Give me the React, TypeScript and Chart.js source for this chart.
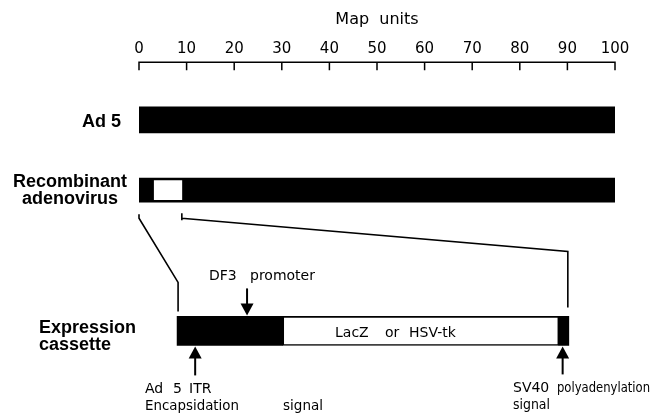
import { useEffect, useRef } from "react";
import { Chart, registerables } from "chart.js";

Chart.register(...registerables);

// ---- data (map units, 0-100) ----
const mapMin = 0;
const mapMax = 100;
const mapStep = 10;
const trackLabels = [
  "", "", "Ad 5", "", "", "Recombinant adenovirus", "", "", "", "", "",
  "Expression cassette", "", "", "",
];
const ad5Genome = [0, 100];
const recombinantGenome = [0, 100];
const recombinantDeletion = [3.2, 9.0];
const cassettePromoterRegion = [8.0, 30.2];
const cassetteTransgene = [30.2, 88.2];
const cassettePolyA = [88.2, 90.3];
const promoterArrowAt = 22.7;
const itrArrowAt = 11.8;
const polyAArrowAt = 89.0;

const rowData = (row: string, seg: number[]) =>
  trackLabels.map((l) => (l === row ? seg : null));

const REG = '"DejaVu Sans", "Open Sans", sans-serif';
const BOLD = 'bold 18px "Liberation Sans", Arial, sans-serif';

const diagramPlugin = {
  id: "diagram",
  afterDraw(chart: any) {
    const ctx = chart.ctx as CanvasRenderingContext2D;
    const xs = chart.scales.x;
    const px = (v: number) => xs.getPixelForValue(v);
    const elAt = (ds: number, label: string) =>
      chart.getDatasetMeta(ds).data[trackLabels.indexOf(label)];

    ctx.save();
    ctx.strokeStyle = "#000";
    ctx.fillStyle = "#000";

    // axis line + downward ticks
    const axisY = chart.chartArea.top + 1;
    ctx.lineWidth = 1.5;
    ctx.beginPath();
    ctx.moveTo(px(mapMin) - 0.75, axisY);
    ctx.lineTo(px(mapMax) + 0.75, axisY);
    xs.ticks.forEach((t: any) => {
      const x = px(t.value);
      ctx.moveTo(x, axisY);
      ctx.lineTo(x, axisY + 8);
    });
    ctx.stroke();

    const rec = elAt(2, "Recombinant adenovirus");
    const cas = elAt(3, "Expression cassette");
    const recBottom = rec.y + rec.height / 2;
    const casTop = cas.y - cas.height / 2;
    const casBottom = cas.y + cas.height / 2;

    // connecting lines
    ctx.lineWidth = 1.6;
    ctx.beginPath();
    const lx0 = px(recombinantGenome[0]);
    const lx1 = px(cassettePromoterRegion[0]) + 1;
    ctx.moveTo(lx0, recBottom + 12);
    ctx.lineTo(lx0, recBottom + 16);
    ctx.lineTo(lx1, casTop - 34);
    ctx.lineTo(lx1, casTop - 5);
    ctx.stroke();

    ctx.beginPath();
    const rx0 = px(recombinantDeletion[1]);
    const rx1 = px(cassettePolyA[1]) - 1;
    ctx.moveTo(rx0, recBottom + 11);
    ctx.lineTo(rx0, recBottom + 18);
    ctx.moveTo(rx0, recBottom + 16);
    ctx.lineTo(rx1, casTop - 65);
    ctx.lineTo(rx1, casTop - 9);
    ctx.stroke();

    // arrows
    const arrow = (x: number, tipY: number, dir: number, len: number) => {
      const headL = 12;
      const headW = 6.5;
      ctx.lineWidth = 2;
      ctx.beginPath();
      ctx.moveTo(x, tipY - dir * len);
      ctx.lineTo(x, tipY - dir * (headL - 1));
      ctx.stroke();
      ctx.beginPath();
      ctx.moveTo(x, tipY);
      ctx.lineTo(x - headW, tipY - dir * headL);
      ctx.lineTo(x + headW, tipY - dir * headL);
      ctx.closePath();
      ctx.fill();
    };
    arrow(px(promoterArrowAt), casTop - 1, 1, 27);
    arrow(px(itrArrowAt), casBottom + 1, -1, 29);
    arrow(px(polyAArrowAt), casBottom + 1, -1, 28);

    // text
    const text = (
      s: string,
      x: number,
      y: number,
      font: string,
      align: CanvasTextAlign = "left",
      maxW?: number
    ) => {
      ctx.font = font;
      ctx.textAlign = align;
      ctx.textBaseline = "alphabetic";
      if (maxW) ctx.fillText(s, x, y, maxW);
      else ctx.fillText(s, x, y);
    };
    const reg = `14px ${REG}`;

    // left labels (bold)
    text("Ad 5", 121, 127, BOLD, "right");
    text("Recombinant", 70, 187, BOLD, "center");
    text("adenovirus", 70, 204, BOLD, "center");
    text("Expression", 39, 333, BOLD, "left");
    text("cassette", 39, 350, BOLD, "left");

    // annotations
    text("DF3", 209, 280, reg);
    text("promoter", 250, 280, reg, "left", 68);
    text("LacZ", 335, 337, reg, "left", 38);
    text("or", 385, 337, reg);
    text("HSV-tk", 409, 337, reg, "left", 52);
    text("Ad", 145, 393, reg);
    text("5", 173, 393, reg);
    text("ITR", 189, 393, reg, "left", 24);
    text("Encapsidation", 145, 410, reg, "left", 94);
    text("signal", 283, 410, reg, "left", 40);
    text("SV40", 513, 392, reg, "left", 37);
    text("polyadenylation", 557, 392, reg, "left", 93);
    text("signal", 513, 409, reg, "left", 37);

    ctx.restore();
  },
};

export default function App() {
  const ref = useRef<HTMLCanvasElement>(null);
  useEffect(() => {
    document.body.style.margin = "0";
    const common = { grouped: false, borderWidth: 0 };
    const chart = new Chart(ref.current!, {
      type: "bar",
      data: {
        labels: trackLabels,
        datasets: [
          { ...common, data: rowData("Ad 5", ad5Genome) as any, backgroundColor: "#000", barThickness: 26 },
          { ...common, data: rowData("Recombinant adenovirus", recombinantDeletion) as any, backgroundColor: "#fff", barThickness: 19 },
          { ...common, data: rowData("Recombinant adenovirus", recombinantGenome) as any, backgroundColor: "#000", barThickness: 24 },
          { ...common, data: rowData("Expression cassette", cassettePromoterRegion) as any, backgroundColor: "#000", barThickness: 29 },
          { ...common, data: rowData("Expression cassette", cassettePolyA) as any, backgroundColor: "#000", barThickness: 29 },
          { ...common, data: rowData("Expression cassette", cassetteTransgene) as any, backgroundColor: "#fff", borderColor: "#000", borderWidth: 1.6, borderSkipped: false, barThickness: 29 },
        ] as any,
      },
      options: {
        indexAxis: "y",
        animation: false,
        responsive: false,
        devicePixelRatio: 1,
        layout: { padding: { left: 139, right: 37, top: 10, bottom: 7 } },
        plugins: { legend: { display: false }, tooltip: { enabled: false } },
        scales: {
          x: {
            type: "linear",
            position: "top",
            min: mapMin,
            max: mapMax,
            ticks: { stepSize: mapStep, color: "#000", padding: 3, font: { family: REG, size: 15 } },
            grid: { display: false, drawTicks: false },
            border: { display: false },
            title: {
              display: true,
              text: "Map  units",
              color: "#000",
              font: { family: REG, size: 16 },
              padding: { top: 0, bottom: 8 },
            },
          },
          y: { type: "category", display: false },
        },
      },
      plugins: [diagramPlugin],
    });
    return () => chart.destroy();
  }, []);
  return <canvas ref={ref} width={652} height={420} style={{ display: "block" }} />;
}
